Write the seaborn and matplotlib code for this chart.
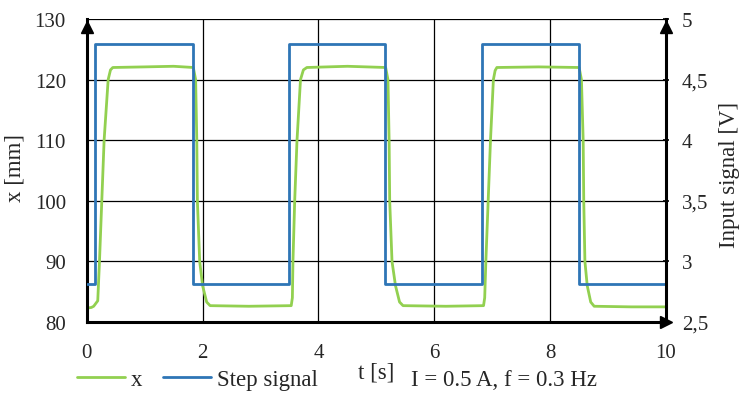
import numpy as np
import pandas as pd
import matplotlib
matplotlib.use("Agg")
import matplotlib.pyplot as plt
from matplotlib.lines import Line2D
import seaborn as sns

# position response x [mm]
x_t = [0.00, 0.08, 0.12, 0.19, 0.22, 0.26, 0.30, 0.37, 0.41, 0.45, 1.00, 1.50, 1.84,
       1.88, 1.90, 1.91, 1.95, 2.00, 2.07, 2.13, 2.80, 3.53,
       3.55, 3.56, 3.59, 3.63, 3.69, 3.74, 3.80, 4.50, 5.16,
       5.20, 5.22, 5.23, 5.27, 5.33, 5.40, 5.46, 6.20, 6.85,
       6.87, 6.89, 6.93, 6.97, 7.02, 7.05, 7.08, 7.80, 8.50,
       8.54, 8.57, 8.58, 8.60, 8.64, 8.70, 8.76, 9.40, 10.00]
x_mm = [82.3, 82.4, 82.6, 83.5, 90.0, 100.0, 110.0, 120.0, 121.6, 122.0, 122.1, 122.2, 122.0,
        120.0, 110.0, 100.0, 90.0, 86.0, 83.3, 82.7, 82.6, 82.7,
        84.0, 90.0, 100.0, 110.0, 120.0, 121.6, 122.0, 122.2, 122.0,
        120.0, 110.0, 100.0, 90.0, 86.0, 83.3, 82.7, 82.6, 82.7,
        84.0, 90.0, 100.0, 110.0, 120.0, 121.5, 122.0, 122.1, 122.0,
        120.0, 110.0, 100.0, 90.0, 86.0, 83.3, 82.6, 82.5, 82.5]

# step input signal [V], switching times
step_t = [0.00, 0.15, 1.83, 3.50, 5.15, 6.83, 8.49, 10.00]
step_v = [2.81, 4.79, 2.81, 4.79, 2.81, 4.79, 2.81, 2.81]

x_ticks = [0, 2, 4, 6, 8, 10]
left_ticks = [80, 90, 100, 110, 120, 130]
right_ticks = [2.5, 3.0, 3.5, 4.0, 4.5, 5.0]
right_labels = ["2,5", "3", "3,5", "4", "4,5", "5"]

green = "#92D050"
blue = "#2E75B6"

sns.set_style("white")
plt.rcParams["font.family"] = ["Liberation Serif", "DejaVu Serif"]

df_x = pd.DataFrame({"t": x_t, "x": x_mm})
df_s = pd.DataFrame({"t": step_t, "v": step_v})

fig = plt.figure(figsize=(7.49, 4.06), dpi=100)
ax1 = fig.add_axes([0.1158, 0.2044, 0.7734, 0.7463])
ax2 = ax1.twinx()

sns.lineplot(data=df_x, x="t", y="x", ax=ax1, color=green, lw=2.0,
             estimator=None, sort=False)
sns.lineplot(data=df_s, x="t", y="v", ax=ax2, color=blue, lw=2.0,
             estimator=None, sort=False, drawstyle="steps-post")

ax1.set_xlim(0, 10)
ax1.set_ylim(80, 130)
ax2.set_ylim(2.5, 5)

ax1.set_xticks(x_ticks)
ax1.set_yticks(left_ticks)
ax2.set_yticks(right_ticks)
ax2.set_yticklabels(right_labels)

ax1.grid(True, color="black", lw=0.9)
ax2.grid(False)

fs_tick = 15
fs_lab = 16.5
ax1.tick_params(axis="both", labelsize=fs_tick, length=0)
ax1.tick_params(axis="y", pad=15)
ax1.tick_params(axis="x", pad=15)
ax2.tick_params(axis="y", labelsize=fs_tick, right=True, direction="inout",
                length=5, width=1.2, color="black", pad=9)

for ax in (ax1, ax2):
    ax.spines["top"].set_visible(False)
ax2.spines["left"].set_visible(False)
ax2.spines["bottom"].set_visible(False)
ax1.spines["right"].set_visible(False)
for sp in (ax1.spines["left"], ax1.spines["bottom"], ax2.spines["right"]):
    sp.set_color("black")
    sp.set_linewidth(2.2)

# arrow heads on the axes
ax2.plot([0], [0.975], marker="^", ms=9, color="black", transform=ax2.transAxes, clip_on=False)
ax2.plot([1], [0.975], marker="^", ms=9, color="black", transform=ax2.transAxes, clip_on=False)
ax2.plot([1.0], [0], marker=">", ms=9, color="black", transform=ax2.transAxes, clip_on=False)

ax1.set_ylabel("x [mm]", fontsize=fs_lab)
ax1.yaxis.set_label_coords(-0.106, 0.51)
ax2.set_ylabel("Input signal [V]", fontsize=fs_lab, rotation=90)
ax2.yaxis.set_label_coords(1.091, 0.49)
ax1.set_xlabel("t [s]", fontsize=fs_lab)
ax1.xaxis.set_label_coords(0.5, -0.13)

handles = [Line2D([], [], color=green, lw=2.0), Line2D([], [], color=blue, lw=2.0)]
fig.legend(handles, ["x", "Step signal"], loc="center left", bbox_to_anchor=(0.091, 0.062),
           ncol=2, frameon=False, fontsize=fs_lab, handlelength=2.1, handletextpad=0.25,
           columnspacing=0.9, borderaxespad=0)
fig.text(0.549, 0.062, "I = 0.5 A, f = 0.3 Hz", fontsize=fs_lab, va="center", ha="left")

fig.savefig("out.png", dpi=100)
